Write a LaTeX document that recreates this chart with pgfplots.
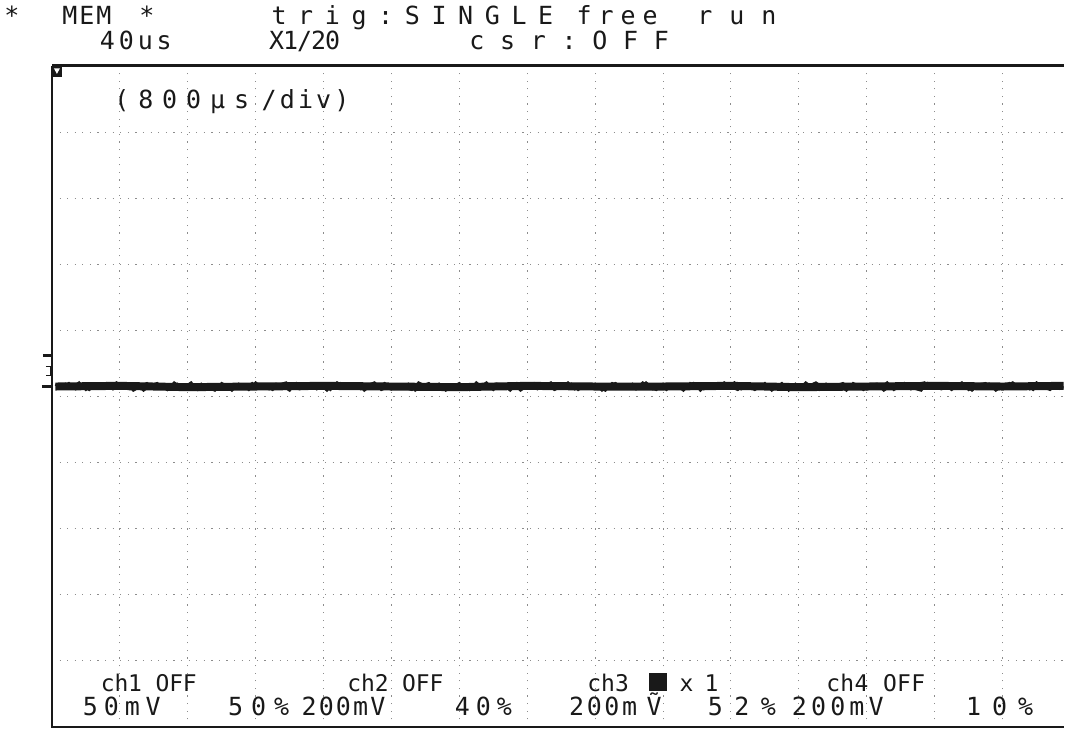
\documentclass[border=0pt]{standalone}
\usepackage{fontspec}
\usepackage{pgfplots}
\pgfplotsset{compat=1.18}
\newfontfamily\scopefont{DejaVu Sans Mono}
\makeatletter
% one fixed-pitch box per character, like the scope's screen font
\newcommand\spaced[2]{\@tfor\sp@c:=#2\do{\makebox[#1][c]{\sp@c}}}
\makeatother
\definecolor{ink}{gray}{0.1}
\definecolor{gridc}{gray}{0.55}

\begin{document}
\begin{tikzpicture}
% picture frame in screen pixels (1065 x 731)
\begin{scope}[x=0.5pt, y=-0.5pt, shift={(-26pt,364pt)}]
  \path[use as bounding box] (0,0) rectangle (1065,731);
\end{scope}

\begin{axis}[
    scale only axis,
    width=506.5pt, height=331pt,
    xmin=0, xmax=14.897,
    ymin=0, ymax=10,
    xtick={0,...,15}, ytick={0,...,10},
    xticklabels={}, yticklabels={},
    major tick length=0pt,
    grid=major,
    grid style={gridc, line width=0.5pt, dash pattern=on 0.6pt off 3.2pt},
    axis line style={draw=none},
]
% wide band of the ch3 trace
\addplot[ink, line width=4pt] coordinates {
 (0.05,5.15) (1,5.16) (2,5.14) (3,5.15) (4,5.16) (5,5.15) (6,5.14) (7,5.16)
 (8,5.15) (9,5.15) (10,5.16) (11,5.14) (12,5.15) (13,5.16) (14,5.15) (14.9,5.16)};
% noise on top of it
\addplot[ink, line width=1.2pt] coordinates {
 (0.05,5.18) (0.15,5.13) (0.25,5.20) (0.35,5.11) (0.45,5.16) (0.55,5.10) (0.65,5.19) (0.75,5.17)
 (0.85,5.12) (0.95,5.21) (1.05,5.14) (1.15,5.11) (1.25,5.18) (1.35,5.09) (1.45,5.17) (1.55,5.20)
 (1.65,5.13) (1.75,5.12) (1.85,5.19) (1.95,5.14) (2.05,5.21) (2.15,5.10) (2.25,5.16) (2.35,5.18)
 (2.45,5.11) (2.55,5.17) (2.65,5.09) (2.75,5.19) (2.85,5.13) (2.95,5.20) (3.05,5.12) (3.15,5.16)
 (3.25,5.10) (3.35,5.18) (3.45,5.21) (3.55,5.13) (3.65,5.11) (3.75,5.17) (3.85,5.14) (3.95,5.19)
 (4.05,5.09) (4.15,5.18) (4.25,5.20) (4.35,5.12) (4.45,5.16) (4.55,5.11) (4.65,5.17) (4.75,5.21)
 (4.85,5.10) (4.95,5.14) (5.05,5.18) (5.15,5.13) (5.25,5.19) (5.35,5.09) (5.45,5.16) (5.55,5.20)
 (5.65,5.12) (5.75,5.17) (5.85,5.11) (5.95,5.18) (6.05,5.16) (6.15,5.10) (6.25,5.21) (6.35,5.13)
 (6.45,5.12) (6.55,5.19) (6.65,5.17) (6.75,5.09) (6.85,5.20) (6.95,5.14) (7.05,5.18) (7.15,5.11)
 (7.25,5.16) (7.35,5.21) (7.45,5.12) (7.55,5.13) (7.65,5.19) (7.75,5.10) (7.85,5.17) (7.95,5.18)
 (8.05,5.14) (8.15,5.09) (8.25,5.20) (8.35,5.16) (8.45,5.12) (8.55,5.19) (8.65,5.13) (8.75,5.21)
 (8.85,5.11) (8.95,5.17) (9.05,5.10) (9.15,5.18) (9.25,5.16) (9.35,5.13) (9.45,5.20) (9.55,5.09)
 (9.65,5.19) (9.75,5.14) (9.85,5.18) (9.95,5.12) (10.05,5.21) (10.15,5.11) (10.25,5.17) (10.35,5.10)
 (10.45,5.16) (10.55,5.18) (10.65,5.13) (10.75,5.20) (10.85,5.09) (10.95,5.19) (11.05,5.12) (11.15,5.16)
 (11.25,5.21) (11.35,5.14) (11.45,5.11) (11.55,5.17) (11.65,5.20) (11.75,5.12) (11.85,5.18) (11.95,5.10)
 (12.05,5.17) (12.15,5.19) (12.25,5.09) (12.35,5.16) (12.45,5.13) (12.55,5.20) (12.65,5.11) (12.75,5.18)
 (12.85,5.21) (12.95,5.12) (13.05,5.14) (13.15,5.17) (13.25,5.10) (13.35,5.19) (13.45,5.16) (13.55,5.09)
 (13.65,5.18) (13.75,5.20) (13.85,5.13) (13.95,5.11) (14.05,5.16) (14.15,5.21) (14.25,5.12) (14.35,5.17)
 (14.45,5.10) (14.55,5.19) (14.65,5.14) (14.75,5.18) (14.85,5.11)};
\addplot[ink, line width=1.2pt] coordinates {
 (0.1,5.12) (0.2,5.19) (0.3,5.14) (0.4,5.21) (0.5,5.10) (0.6,5.17) (0.7,5.13) (0.8,5.20) (0.9,5.11) (1.0,5.16)
 (1.1,5.19) (1.2,5.09) (1.3,5.15) (1.4,5.20) (1.5,5.12) (1.6,5.18) (1.7,5.10) (1.8,5.21) (1.9,5.14) (2.0,5.17)
 (2.1,5.11) (2.2,5.19) (2.3,5.13) (2.4,5.09) (2.5,5.20) (2.6,5.15) (2.7,5.12) (2.8,5.18) (2.9,5.10) (3.0,5.21)
 (3.1,5.14) (3.2,5.11) (3.3,5.19) (3.4,5.16) (3.5,5.09) (3.6,5.20) (3.7,5.13) (3.8,5.17) (3.9,5.11) (4.0,5.18)
 (4.1,5.10) (4.2,5.21) (4.3,5.15) (4.4,5.12) (4.5,5.19) (4.6,5.09) (4.7,5.17) (4.8,5.14) (4.9,5.20) (5.0,5.11)
 (5.1,5.18) (5.2,5.13) (5.3,5.10) (5.4,5.21) (5.5,5.16) (5.6,5.12) (5.7,5.19) (5.8,5.09) (5.9,5.15) (6.0,5.20)
 (6.1,5.11) (6.2,5.17) (6.3,5.14) (6.4,5.21) (6.5,5.10) (6.6,5.18) (6.7,5.13) (6.8,5.19) (6.9,5.09) (7.0,5.16)
 (7.1,5.20) (7.2,5.12) (7.3,5.18) (7.4,5.10) (7.5,5.15) (7.6,5.21) (7.7,5.11) (7.8,5.17) (7.9,5.13) (8.0,5.19)
 (8.1,5.09) (8.2,5.16) (8.3,5.20) (8.4,5.12) (8.5,5.18) (8.6,5.11) (8.7,5.21) (8.8,5.14) (8.9,5.10) (9.0,5.19)
 (9.1,5.13) (9.2,5.17) (9.3,5.09) (9.4,5.20) (9.5,5.15) (9.6,5.11) (9.7,5.18) (9.8,5.12) (9.9,5.21) (10.0,5.14)
 (10.1,5.10) (10.2,5.19) (10.3,5.16) (10.4,5.12) (10.5,5.20) (10.6,5.09) (10.7,5.17) (10.8,5.13) (10.9,5.18) (11.0,5.11)
 (11.1,5.21) (11.2,5.14) (11.3,5.10) (11.4,5.19) (11.5,5.12) (11.6,5.17) (11.7,5.09) (11.8,5.20) (11.9,5.15) (12.0,5.11)
 (12.1,5.18) (12.2,5.13) (12.3,5.21) (12.4,5.10) (12.5,5.16) (12.6,5.19) (12.7,5.12) (12.8,5.09) (12.9,5.20) (13.0,5.14)
 (13.1,5.11) (13.2,5.18) (13.3,5.15) (13.4,5.21) (13.5,5.10) (13.6,5.17) (13.7,5.13) (13.8,5.19) (13.9,5.09) (14.0,5.16)
 (14.1,5.20) (14.2,5.12) (14.3,5.18) (14.4,5.11) (14.5,5.21) (14.6,5.14) (14.7,5.10) (14.8,5.19) (14.9,5.13)};
\end{axis}

\begin{scope}[x=0.5pt, y=-0.5pt, shift={(-26pt,364pt)},
    every node/.style={inner sep=0pt, anchor=base, text=ink}]
  % screen border (right edge cut off)
  \draw[ink, line width=1.5pt] (1065,66) -- (52,66);
  \draw[ink, line width=1pt] (52,66) -- (52,728) -- (1065,728);
  % trigger marker and ground marker
  \fill[ink] (52,66) rectangle (62,77);
  \fill[white] (54,68.5) -- (60,68.5) -- (57,74) -- cycle;
  \draw[ink, line width=1.2pt] (43,356) -- (51,356);
  \draw[ink, line width=0.8pt] (46,367) -- (51,367) -- (51,376) -- (46,376);
  \draw[ink, line width=1.2pt] (42,387) -- (52,387);
  % header
  \fontsize{12.5}{14}\scopefont
  \node at (12,25) {*};
  \node at (87,25) {\spaced{8.5pt}{MEM}};
  \node at (147,25) {*};
  \node at (413,25) {\spaced{13.35pt}{trig:SINGLE}};
  \node at (618,25) {\spaced{11pt}{free}};
  \node at (738,25) {\spaced{16pt}{run}};
  \node at (136,50) {\spaced{9.5pt}{40us}};
  \node at (305,50) {\spaced{7pt}{X1/20}};
  \node at (570,50) {\spaced{15.4pt}{csr:OFF}};
  % time base inside the screen
  \node at (182,109) {\spaced{12pt}{(800µs}};
  \node at (306,109) {\spaced{9.1pt}{/div)}};
  % channel settings
  \node[font=\fontsize{11.5}{13}\scopefont] at (149,692) {\spaced{6.85pt}{ch1~OFF}};
  \node[font=\fontsize{11.5}{13}\scopefont] at (396,692) {\spaced{6.85pt}{ch2~OFF}};
  \node[font=\fontsize{11.5}{13}\scopefont] at (609,692) {\spaced{7pt}{ch3}};
  \fill[ink] (650,674) rectangle (668,692);
  \node[font=\fontsize{11.5}{13}\scopefont] at (700,692) {\spaced{6.25pt}{x~1}};
  \node[font=\fontsize{11.5}{13}\scopefont] at (877,692) {\spaced{7.1pt}{ch4~OFF}};
  \node at (122,717) {\spaced{10.5pt}{50mV}};
  \node at (259,717) {\spaced{11.5pt}{50\%}};
  \node at (344,717) {\spaced{8.6pt}{200mV}};
  \node at (484,717) {\spaced{10.5pt}{40\%}};
  \node at (604,717) {\spaced{8.85pt}{200m}};
  \node at (655,717) {Ṽ};
  \node at (743,717) {\spaced{13.25pt}{52\%}};
  \node at (839,717) {\spaced{9.6pt}{200mV}};
  \node at (1001,717) {\spaced{13pt}{10\%}};
\end{scope}
\end{tikzpicture}
\end{document}
